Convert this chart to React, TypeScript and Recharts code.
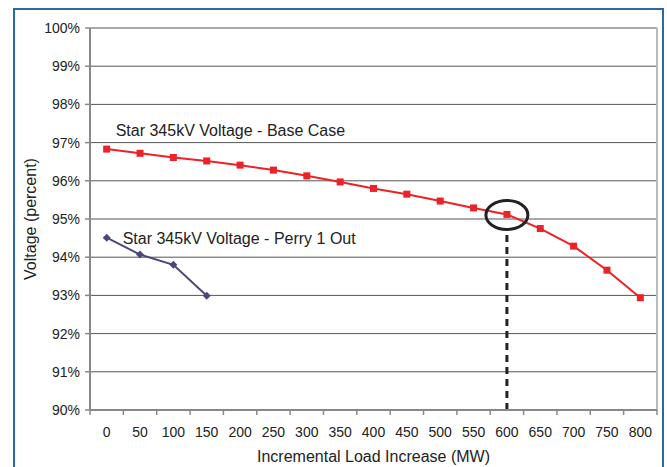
import {
  LineChart,
  Line,
  XAxis,
  YAxis,
  CartesianGrid,
  ReferenceLine,
  ReferenceDot,
} from "recharts";

const loads = [0, 50, 100, 150, 200, 250, 300, 350, 400, 450, 500, 550, 600, 650, 700, 750, 800];
const baseCase = [96.83, 96.72, 96.61, 96.52, 96.41, 96.28, 96.13, 95.97, 95.8, 95.65, 95.47, 95.29, 95.12, 94.75, 94.29, 93.66, 92.94];
const perryOut = [94.51, 94.07, 93.8, 92.99];
const categoryEdges = [-25, 25, 75, 125, 175, 225, 275, 325, 375, 425, 475, 525, 575, 625, 675, 725, 775, 825];
const voltageTicks = [90, 91, 92, 93, 94, 95, 96, 97, 98, 99, 100];

const X_DOMAIN: [number, number] = [-25, 825];
const HALF_STEP = 25;

const data = loads.map((load, i) => ({
  load,
  base: baseCase[i],
  perry: i < perryOut.length ? perryOut[i] : null,
}));

const FONT = "'Liberation Sans', Arial, sans-serif";
const RED = "#ec2227";
const PURPLE = "#4b4878";

const Square = (props: any) => {
  const { cx, cy } = props;
  if (cx == null || cy == null) return null;
  return <rect x={cx - 3.5} y={cy - 3.5} width={7} height={7} fill={RED} />;
};

const Diamond = (props: any) => {
  const { cx, cy, value } = props;
  if (cx == null || cy == null || value == null) return null;
  return (
    <polygon
      points={`${cx},${cy - 4} ${cx + 4},${cy} ${cx},${cy + 4} ${cx - 4},${cy}`}
      fill={PURPLE}
    />
  );
};

const seriesLabel = (text: string, dx: number, dy: number) => (props: any) => {
  const { x, y, index } = props;
  if (index !== 0) return null;
  return (
    <text x={x + dx} y={y + dy} fontSize={16} fontFamily={FONT} fill="#222">
      {text}
    </text>
  );
};

// tick marks sit on the category edges (Excel style); the label goes in the middle of the band
const CategoryTick = (props: any) => {
  const { x, y, width, payload } = props;
  const value = payload.value + HALF_STEP;
  if (value > X_DOMAIN[1]) return null;
  const shift = (width * HALF_STEP) / (X_DOMAIN[1] - X_DOMAIN[0]);
  return (
    <text x={x + shift} y={y} dy="0.71em" textAnchor="middle" fontSize={14} fontFamily={FONT} fill="#222">
      {value}
    </text>
  );
};

const Graph = () => {
  return (
    <div style={{ position: "absolute", left: 0, top: 0, width: 667, height: 467, background: "#fff" }}>
      <div
        style={{
          position: "absolute",
          left: 13,
          top: 8,
          width: 647,
          height: 470,
          border: "2px solid #2a68a8",
          borderBottom: "none",
        }}
      />
      <LineChart
        width={667}
        height={467}
        data={data}
        margin={{ top: 28, right: 10, left: 0, bottom: 0 }}
        style={{ position: "absolute", left: 0, top: 0, fontFamily: FONT }}
      >
        <CartesianGrid horizontal vertical={false} stroke="#555" />
        <XAxis
          dataKey="load"
          type="number"
          domain={X_DOMAIN}
          ticks={categoryEdges}
          interval={0}
          tick={<CategoryTick />}
          axisLine={{ stroke: "#888", strokeWidth: 2 }}
          tickLine={{ stroke: "#888", strokeWidth: 1.5 }}
          tickSize={5}
          tickMargin={12}
          height={57}
          label={{
            value: "Incremental Load Increase (MW)",
            position: "insideBottom",
            offset: 5,
            fill: "#222",
            fontSize: 16,
          }}
        />
        <YAxis
          domain={[90, 100]}
          ticks={voltageTicks}
          interval={0}
          tickFormatter={(v: number) => `${v}%`}
          width={90}
          tickSize={5}
          tickMargin={5}
          axisLine={{ stroke: "#888", strokeWidth: 2 }}
          tickLine={{ stroke: "#888", strokeWidth: 1.5 }}
          tick={{ fill: "#222", fontSize: 14 }}
          label={{
            value: "Voltage (percent)",
            angle: -90,
            position: "center",
            dx: -15,
            fill: "#222",
            fontSize: 16,
          }}
        />
        <ReferenceLine x={825} stroke="#bbb" strokeWidth={2} />
        <ReferenceLine
          segment={[
            { x: 600, y: 90 },
            { x: 600, y: 94.62 },
          ]}
          stroke="#222"
          strokeWidth={3}
          strokeDasharray="7 5"
        />
        <Line
          dataKey="base"
          stroke={RED}
          strokeWidth={2}
          dot={<Square />}
          isAnimationActive={false}
          label={seriesLabel("Star 345kV Voltage - Base Case", 9, -13)}
        />
        <Line
          dataKey="perry"
          stroke={PURPLE}
          strokeWidth={2}
          dot={<Diamond />}
          connectNulls={false}
          isAnimationActive={false}
          label={seriesLabel("Star 345kV Voltage - Perry 1 Out", 16, 6)}
        />
        <ReferenceDot
          x={600}
          y={baseCase[loads.indexOf(600)]}
          shape={(p: any) => (
            <ellipse cx={p.cx} cy={p.cy + 0.5} rx={21} ry={14.5} fill="none" stroke="#222" strokeWidth={3} />
          )}
        />
      </LineChart>
    </div>
  );
};

export default function App() {
  return <Graph />;
}
